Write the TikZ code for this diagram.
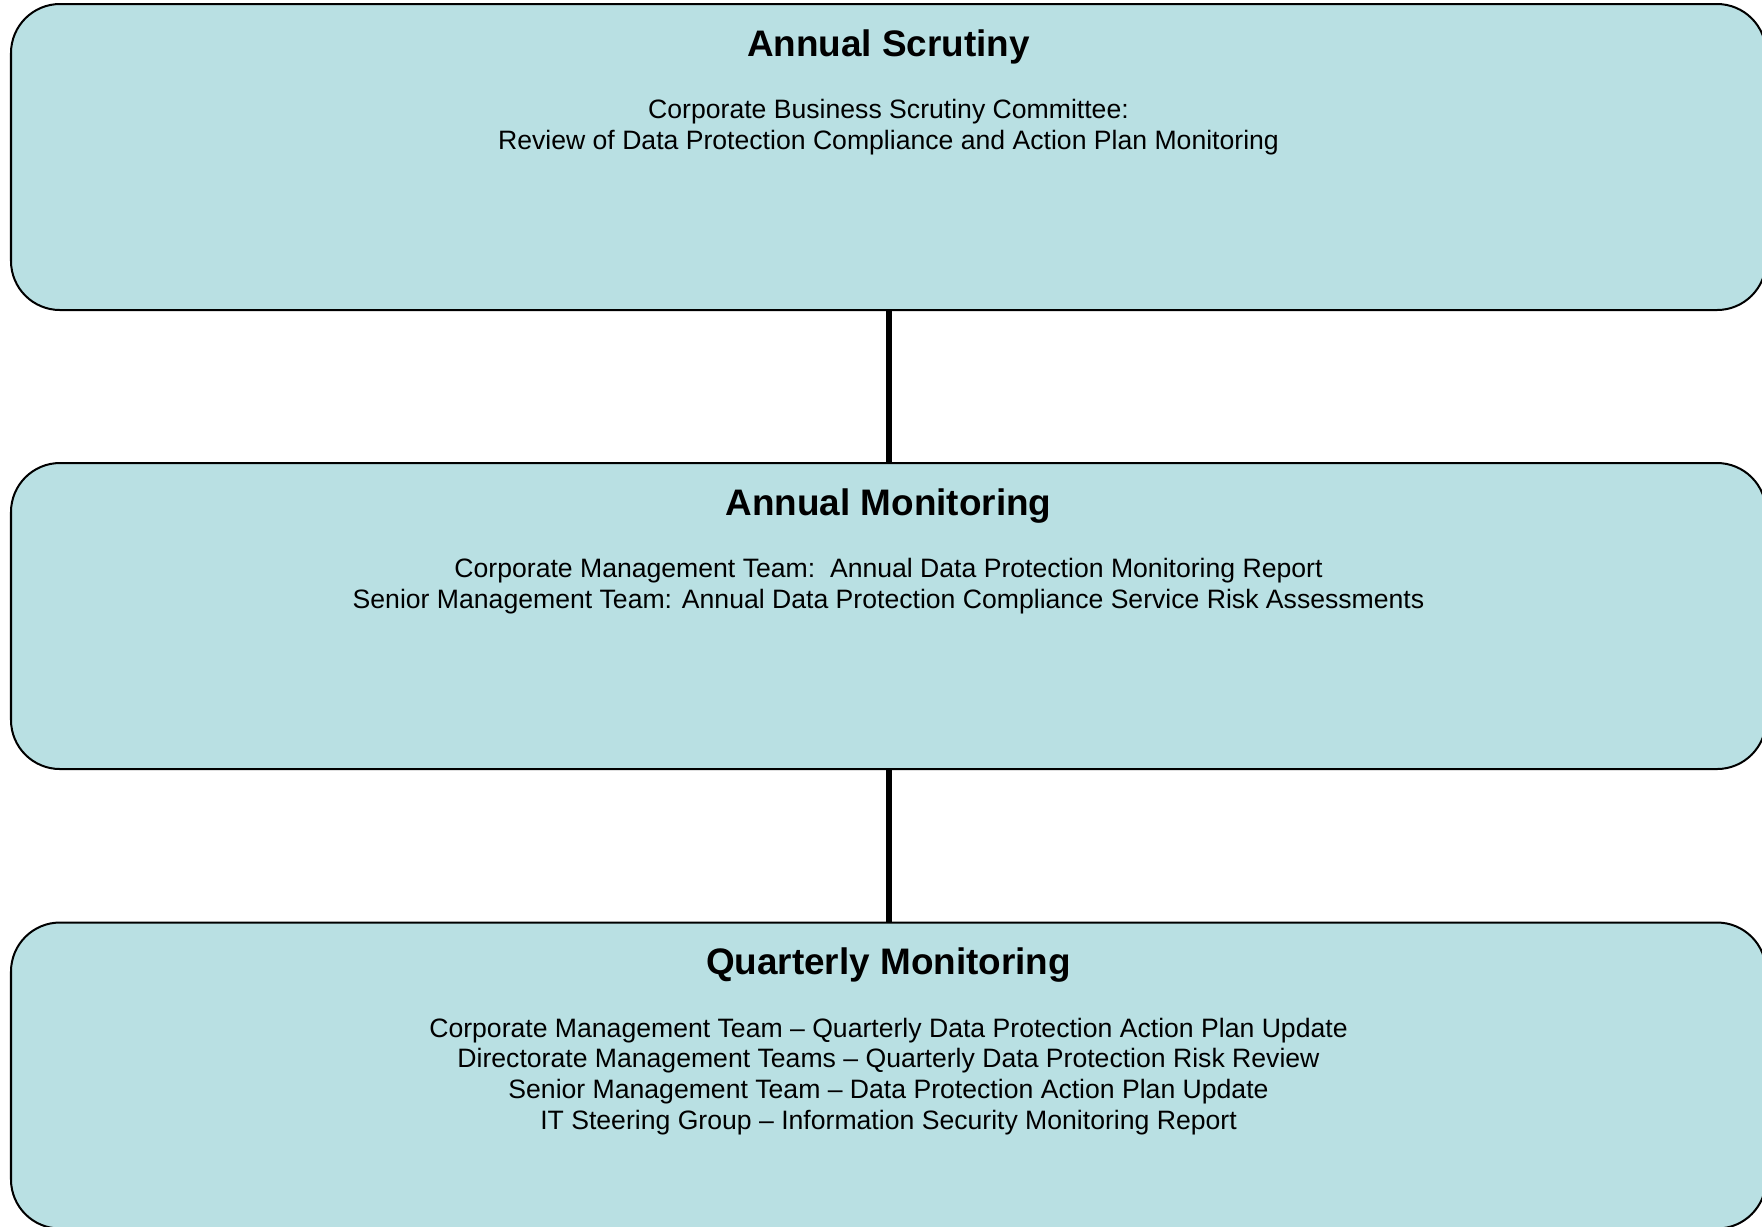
\documentclass[tikz,border=0pt]{standalone}
\usepackage{fontspec}
\setmainfont{Liberation Sans}
\usepackage{tikz}
\usetikzlibrary{positioning}
\usepackage{xcolor}
\definecolor{stagefill}{RGB}{185,224,227}

\begin{document}
\begin{tikzpicture}
    % Define styles for the boxes and their texts
    \tikzstyle{stage node} = [draw, line width=0.57pt, fill=stagefill, rounded corners=0.49cm, minimum width=17.55cm, minimum height=3.06cm, inner sep=0pt]
    \tikzstyle{stage head} = [inner sep=0pt, anchor=base, yshift=-0.53cm, font=\fontsize{10.5}{12}\selectfont\bfseries]
    \tikzstyle{stage text} = [inner sep=0pt, anchor=north, yshift=-0.955cm, align=center, font=\fontsize{7.57}{8.75}\selectfont]
    \tikzstyle{link} = [line width=1.7pt]

    \useasboundingbox (0,0) rectangle (17.62,-12.26);

    % Boxes
    \node[stage node] (scrutiny) at (8.885,-1.57) {};
    \node[stage node] (annual) at (8.885,-6.16) {};
    \node[stage node] (quarterly) at (8.885,-10.755) {};

    % Headings
    \node[stage head] (scrutinyhead) at (scrutiny.north) {Annual Scrutiny};
    \node[stage head] (annualhead) at (annual.north) {Annual Monitoring};
    \node[stage head] (quarterlyhead) at (quarterly.north) {Quarterly Monitoring};

    % Texts
    \node[stage text] (scrutinytext) at (scrutiny.north) {Corporate Business Scrutiny Committee:\\Review of Data Protection Compliance and Action Plan Monitoring};
    \node[stage text] (annualtext) at (annual.north) {Corporate Management Team:\ \ Annual Data Protection Monitoring Report\\Senior Management Team: Annual Data Protection Compliance Service Risk Assessments};
    \node[stage text] (quarterlytext) at (quarterly.north) {Corporate Management Team -- Quarterly Data Protection Action Plan Update\\Directorate Management Teams -- Quarterly Data Protection Risk Review\\Senior Management Team -- Data Protection Action Plan Update\\IT Steering Group -- Information Security Monitoring Report};

    % Connectors
    \draw[link] (scrutiny) -- (annual);
    \draw[link] (annual) -- (quarterly);
\end{tikzpicture}
\end{document}
